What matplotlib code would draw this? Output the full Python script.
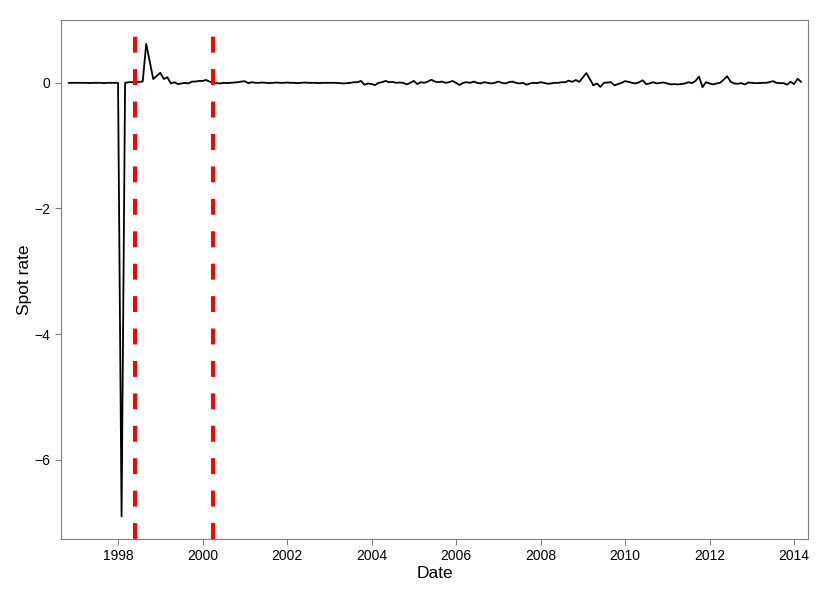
import numpy as np
import pandas as pd
import matplotlib
matplotlib.use("Agg")
import matplotlib.pyplot as plt

plt.rcParams["font.family"] = ["Liberation Sans", "DejaVu Sans"]

# monthly observations, Nov 1996 .. Mar 2014
start_month = "1996-11-01"
end_month = "2014-03-01"
spot_rate = [
    0.0, 0.0,                                                                       # 1996 (Nov-Dec)
    0.0, 0.0, 0.0, 0.0, -0.005, 0.0, 0.0, 0.0, -0.005, 0.0, 0.0, 0.0,               # 1997
    0.0, -6.9, 0.0, 0.01, 0.01, 0.01, 0.015, 0.02, 0.62, 0.34, 0.06, 0.11,          # 1998
    0.16, 0.06, 0.09, -0.01, 0.01, -0.02, -0.01, 0.0, -0.01, 0.02, 0.02, 0.03,      # 1999
    0.03, 0.045, 0.02, 0.0, -0.005, -0.01, 0.0, -0.005, 0.0, 0.005, 0.01, 0.02,     # 2000
    0.025, -0.005, 0.01, 0.0, 0.0, 0.005, 0.0, -0.005, 0.0, 0.005, 0.0, 0.0,        # 2001
    0.005, 0.0, 0.0, -0.005, 0.0, 0.005, 0.0, 0.0, 0.0, -0.005, 0.0, 0.0,           # 2002
    0.0, 0.0, 0.0, -0.005, -0.01, -0.005, 0.0, 0.01, 0.01, 0.03, -0.03, -0.01,      # 2003
    -0.02, -0.035, 0.0, 0.01, 0.03, 0.01, 0.015, 0.0, 0.005, 0.0, -0.025, 0.0,      # 2004
    0.03, -0.02, 0.01, 0.0, 0.02, 0.05, 0.02, 0.01, 0.02, 0.0, 0.01, 0.03,          # 2005
    0.0, -0.035, 0.0, 0.01, 0.0, 0.02, 0.0, -0.01, 0.01, 0.0, -0.01, 0.0,           # 2006
    0.02, 0.0, -0.01, 0.01, 0.02, 0.0, -0.01, 0.0, -0.03, -0.01, 0.0, -0.005,       # 2007
    0.01, 0.0, -0.015, -0.01, 0.0, 0.0, 0.01, 0.01, 0.035, 0.015, 0.045, 0.015,     # 2008
    0.085, 0.155, 0.06, -0.04, -0.01, -0.065, 0.0, 0.005, 0.01, -0.04, -0.02, 0.0,  # 2009
    0.027, 0.015, 0.0, -0.01, 0.01, 0.04, -0.02, -0.01, 0.01, -0.01, 0.0, 0.005,    # 2010
    -0.01, -0.025, -0.02, -0.025, -0.02, -0.01, 0.01, -0.005, 0.03, 0.10, -0.07, 0.01,  # 2011
    -0.01, -0.025, -0.01, 0.0, 0.05, 0.105, 0.016, -0.01, -0.015, -0.005, -0.027, 0.005,  # 2012
    0.0, -0.005, -0.005, 0.0, 0.0, 0.01, 0.027, 0.0, -0.005, -0.005, -0.03, 0.016,  # 2013
    -0.02, 0.064, 0.016,                                                            # 2014 (Jan-Mar)
]
break_dates = [1998.41, 2000.25]
x_ticks = [1998, 2000, 2002, 2004, 2006, 2008, 2010, 2012, 2014]
y_ticks = [0, -2, -4, -6]

months = pd.date_range(start_month, end_month, freq="MS")
dec_year = months.year + (months.month - 1) / 12.0

fig = plt.figure(figsize=(8.3, 5.95), dpi=100)
ax = fig.add_axes([0.0735, 0.0941, 0.9, 0.8723])

ax.plot(dec_year, spot_rate, color="black", lw=1.3)
for d in break_dates:
    ax.axvline(d, color="#ff0000", lw=2.9, dashes=(3.95, 4.1))

ax.set_xlim(1996.65, 2014.33)
ax.set_ylim(-7.26, 1.0)
ax.set_xticks(x_ticks)
ax.set_yticks(y_ticks)
ax.set_xticklabels([str(t) for t in x_ticks])
ax.set_yticklabels(["0", "\u22122", "\u22124", "\u22126"])

for s in ax.spines.values():
    s.set_color("#7f7f7f")
    s.set_linewidth(0.8)
ax.tick_params(colors="#7f7f7f", labelcolor="black", labelsize=10, length=4, width=0.8)

ax.set_xlabel("Date", fontsize=12.5, labelpad=2)
ax.set_ylabel("Spot rate", fontsize=12.5, labelpad=2)

fig.savefig("out.png", dpi=100)
